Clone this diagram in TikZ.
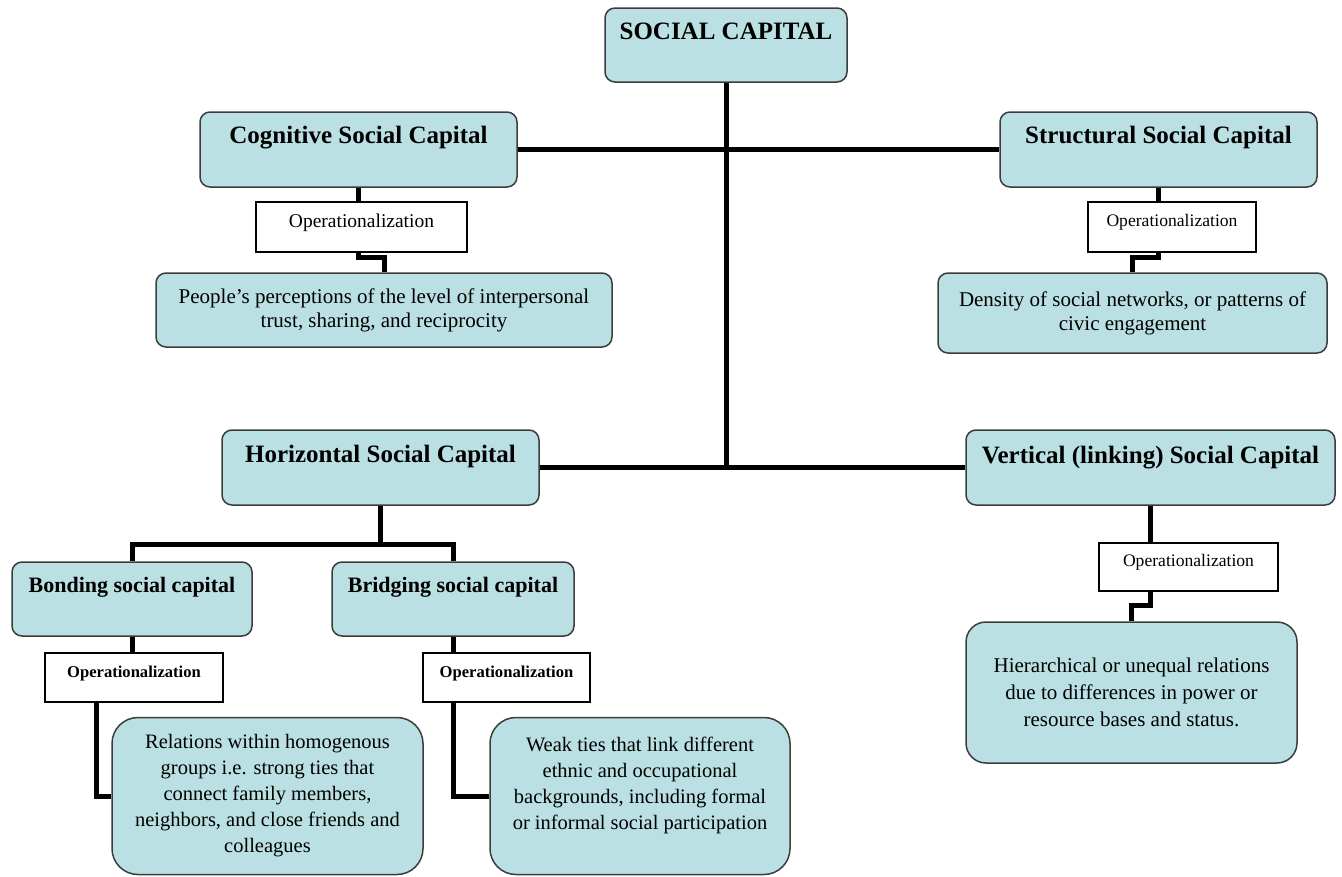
\documentclass[tikz,border=0pt]{standalone}
\usepackage{fontspec}
\setmainfont{Liberation Serif}
\definecolor{boxfill}{RGB}{186,224,227}
\definecolor{boxline}{RGB}{60,60,60}
\tikzset{
  base/.style={draw=boxline, line width=1.5pt, fill=boxfill, inner xsep=0pt, inner ysep=0pt},
  headbox/.style n args={4}{base, rounded corners=10pt, minimum width=#1, minimum height=#2,
     text height=#3, text depth=#4, font=\fontsize{25}{30}\selectfont\bfseries},
  subbox/.style n args={4}{base, rounded corners=10pt, minimum width=#1, minimum height=#2,
     text height=#3, text depth=#4, font=\fontsize{22}{26}\selectfont\bfseries},
  bodybox/.style n args={4}{base, rounded corners=#3, minimum width=#1, minimum height=#2,
     align=center, font=#4},
  opbox/.style n args={5}{draw=black, line width=1.5pt, fill=white, inner sep=0pt,
     minimum width=#1, minimum height=#2, text height=#3, text depth=#4, font=#5},
  conn/.style={draw=black, line width=5pt},
}
\begin{document}
\begin{tikzpicture}[x=1pt,y=1pt]
\useasboundingbox (0,0) rectangle (1342,-876);
% top level
\node[headbox={242pt}{74pt}{31pt}{43pt}] (sc) at (726,-45) {SOCIAL CAPITAL};
\node[headbox={317pt}{75pt}{31pt}{44pt}] (cog) at (358.5,-149.5) {Cognitive Social Capital};
\node[headbox={317pt}{75pt}{31pt}{44pt}] (str) at (1158.5,-149.5) {Structural Social Capital};
\node[headbox={317pt}{75pt}{32pt}{43pt}] (hor) at (380.5,-467.5) {Horizontal Social Capital};
\node[headbox={369pt}{75pt}{33pt}{42pt}] (ver) at (1150.5,-467.5) {Vertical (linking) Social Capital};
\node[subbox={240pt}{74pt}{30pt}{44pt}] (bond) at (132,-599) {Bonding social capital};
\node[subbox={242pt}{74pt}{30pt}{44pt}] (brg) at (453,-599) {Bridging social capital};
% operationalization boxes
\node[opbox={211pt}{50pt}{25.5pt}{24.5pt}{\fontsize{19.5}{22}\selectfont}] (op1) at (361.5,-227) {Operationalization};
\node[opbox={168pt}{50pt}{24pt}{26pt}{\fontsize{17.6}{20}\selectfont}] (op2) at (1172,-227) {Operationalization};
\node[opbox={178pt}{49pt}{24pt}{25pt}{\fontsize{16.6}{20}\selectfont\bfseries}] (op3) at (134,-677.5) {Operationalization};
\node[opbox={167pt}{49pt}{24pt}{25pt}{\fontsize{16.6}{20}\selectfont\bfseries}] (op4) at (506.5,-677.5) {Operationalization};
\node[opbox={179pt}{48pt}{23pt}{25pt}{\fontsize{17.6}{20}\selectfont}] (op5) at (1188.5,-567) {Operationalization};
% description boxes
\node[bodybox={456pt}{74pt}{10pt}{\fontsize{21}{24}\selectfont}] (peo) at (384,-310)
  {People’s perceptions of the level of interpersonal\\trust, sharing, and reciprocity};
\node[bodybox={389pt}{80pt}{10pt}{\fontsize{21}{24}\selectfont}] (den) at (1132.5,-313)
  {Density of social networks, or patterns of\\civic engagement};
\node[bodybox={331pt}{141pt}{20pt}{\fontsize{21}{27}\selectfont}] (hie) at (1131.5,-692.5)
  {Hierarchical or unequal relations\\due to differences in power or\\resource bases and status.};
\node[bodybox={311pt}{157pt}{26pt}{\fontsize{20.5}{26}\selectfont}] (rel) at (267.5,-796)
  {Relations within homogenous\\groups i.e. strong ties that\\connect family members,\\neighbors, and close friends and\\colleagues};
\node[bodybox={300pt}{157pt}{26pt}{\fontsize{20.5}{26}\selectfont}] (weak) at (640,-796)
  {Weak ties that link different\\ethnic and occupational\\backgrounds, including formal\\or informal social participation\\\mbox{}};
% connectors
\coordinate (hbar) at (380.5,-544);
\draw[conn] (sc.south) -- (sc.south |- hor.east);
\draw[conn] (cog.east) -- (str.west);
\draw[conn] (hor.east) -- (ver.west);
\draw[conn] (cog.south) -- (cog.south |- op1.north);
\draw[conn] (cog.south |- op1.south) -- ++(0,-5) -| (peo.north);
\draw[conn] (str.south) -- (str.south |- op2.north);
\draw[conn] (str.south |- op2.south) -- ++(0,-5) -| (den.north);
\draw[conn] (hor.south) -- (hbar);
\draw[conn] (bond.north) |- (hbar) -| (brg.north);
\draw[conn] (bond.south) -- (bond.south |- op3.north);
\draw[conn] ([xshift=-38pt]op3.south) |- (rel.west);
\draw[conn] (brg.south) -- (brg.south |- op4.north);
\draw[conn] (brg.south |- op4.south) |- (weak.west);
\draw[conn] (ver.south) -- (ver.south |- op5.north);
\draw[conn] (ver.south |- op5.south) -- ++(0,-14) -| (hie.north);
\end{tikzpicture}
\end{document}
